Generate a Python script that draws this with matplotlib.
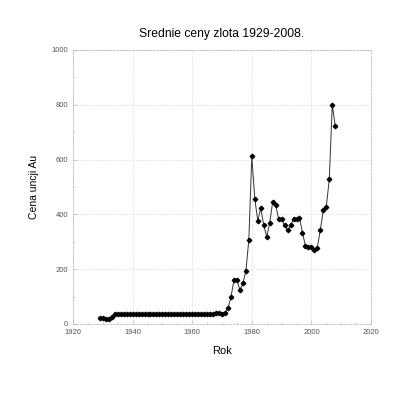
import matplotlib
matplotlib.use("Agg")
import matplotlib.pyplot as plt
from matplotlib.ticker import MultipleLocator

plt.rcParams['font.family'] = ['Liberation Sans', 'DejaVu Sans']

# yearly average gold price (USD per ounce), 1929-2008
years = list(range(1929, 2009))
prices = [20.6, 20.6, 17.1, 17.9, 26.0, 34.7] + [35.0] * 33 + [
    39.0, 41.0, 36.4, 41.0, 58.0, 98.0, 160.0, 161.0, 124.0, 148.0,
    193.0, 306.0, 612.0, 458.0, 376.0, 423.0, 361.0, 318.0, 369.0, 445.0,
    436.0, 382.0, 382.0, 361.0, 342.0, 360.0, 384.0, 384.0, 388.0, 333.0,
    286.0, 282.0, 281.0, 271.0, 279.0, 344.0, 415.0, 428.0, 529.0, 800.0,
    722.0,
]

xticks = [1920, 1940, 1960, 1980, 2000, 2020]
yticks = [0, 200, 400, 600, 800, 1000]

fig = plt.figure(figsize=(3.99, 4.0), dpi=100)
ax = fig.add_axes([73 / 399, 1 - 324 / 400, 298 / 399, 274 / 400])

ax.plot(years, prices, color="#333333", linewidth=0.7, marker="D",
        markersize=2.3, markerfacecolor="black", markeredgecolor="black")

ax.set_xlim(1920, 2020)
ax.set_ylim(0, 1000)
ax.set_xticks(xticks)
ax.set_yticks(yticks)
ax.xaxis.set_minor_locator(MultipleLocator(5))
ax.yaxis.set_minor_locator(MultipleLocator(100))
ax.tick_params(which="both", direction="in", colors="#bbbbbb",
               labelcolor="#555555", labelsize=5.5)
ax.tick_params(which="major", length=3, width=0.5)
ax.tick_params(which="minor", length=1.5, width=0.5)
ax.grid(True, which="major", color="#cccccc", linestyle=(0, (1, 2)), linewidth=0.6)
for s in ax.spines.values():
    s.set_color("#bbbbbb")
    s.set_linestyle((0, (2, 2)))
    s.set_linewidth(0.6)

ax.set_title("Srednie ceny zlota 1929-2008.", fontsize=8.7, pad=9)
ax.set_xlabel("Rok", fontsize=8, labelpad=7)
ax.set_ylabel("Cena uncji Au", fontsize=7.5, labelpad=9)

fig.savefig("out.png", dpi=100)
